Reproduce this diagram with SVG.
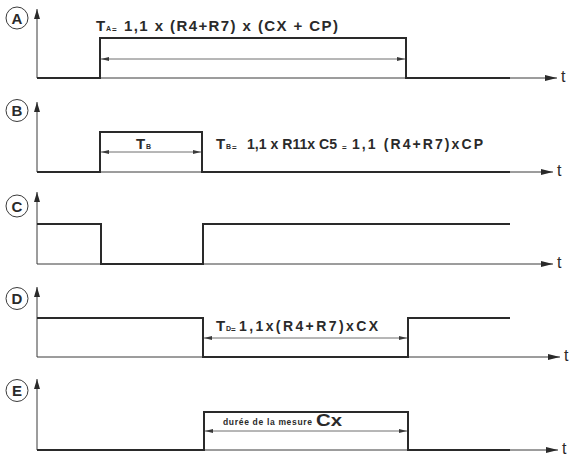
<svg xmlns="http://www.w3.org/2000/svg" width="575" height="459" viewBox="0 0 575 459">
<defs>
<style>
.bg{fill:#ffffff}
.sig{fill:none;stroke:#2a2a2a;stroke-width:2;stroke-linejoin:miter}
.tax{fill:none;stroke:#3a3a3a;stroke-width:1;marker-end:url(#tarr)}
.yax{fill:none;stroke:#3a3a3a;stroke-width:1;marker-end:url(#yarr)}
.dim{fill:none;stroke:#4a4a4a;stroke-width:0.8;marker-start:url(#darr);marker-end:url(#darr)}
.circ{fill:none;stroke:#3a3a3a;stroke-width:1}
.lbl{font-family:"Liberation Sans",Arial,sans-serif;font-weight:bold;font-size:15px;fill:#2a2a2a;text-anchor:middle}
.tx{font-family:"Liberation Sans",Arial,sans-serif;font-weight:bold;font-size:15px;fill:#2a2a2a}
.tx14{font-family:"Liberation Sans",Arial,sans-serif;font-weight:bold;font-size:14px;fill:#2a2a2a}
.sub{font-family:"Liberation Sans",Arial,sans-serif;font-weight:bold;font-size:7px;fill:#2a2a2a}
.eq{font-family:"Liberation Sans",Arial,sans-serif;font-weight:bold;font-size:8px;fill:#2a2a2a}
.sm{font-family:"Liberation Sans",Arial,sans-serif;font-size:8.5px;font-weight:bold;fill:#2a2a2a}
.t{font-family:"Liberation Sans",Arial,sans-serif;font-size:16px;fill:#2a2a2a}
</style>
<marker id="tarr" markerUnits="userSpaceOnUse" markerWidth="12" markerHeight="6" refX="12" refY="3" orient="auto">
<path d="M0,0 L12,3 L0,6 z" fill="#2a2a2a"/>
</marker>
<marker id="yarr" markerUnits="userSpaceOnUse" markerWidth="10" markerHeight="6" refX="10" refY="3" orient="auto">
<path d="M0,0 L10,3 L0,6 z" fill="#2a2a2a"/>
</marker>
<marker id="darr" markerUnits="userSpaceOnUse" markerWidth="8" markerHeight="4" refX="8" refY="2" orient="auto-start-reverse">
<path d="M0,0 L8,2 L0,4 z" fill="#3a3a3a"/>
</marker>
</defs>
<rect class="bg" x="0" y="0" width="575" height="459"/>

<g id="rowA">
<circle class="circ" cx="17" cy="18" r="11"/>
<text class="lbl" x="17" y="23.5">A</text>
<line class="yax" x1="37" y1="78" x2="37" y2="9"/>
<line class="tax" x1="37" y1="78" x2="557" y2="78"/>
<polyline class="sig" points="37,78 100,78 100,38 406,38 406,78 510,78"/>
<line class="dim" x1="101" y1="59" x2="405" y2="59"/>
<text class="tx" x="96" y="31">T</text>
<text class="sub" x="106" y="31">A</text>
<text class="eq" x="112" y="32">=</text>
<text class="tx" x="124" y="31" textLength="214" lengthAdjust="spacing">1,1 x (R4+R7) x (CX + CP)</text>
<text class="t" x="561" y="82">t</text>
</g>

<g id="rowB">
<circle class="circ" cx="17" cy="110.5" r="11"/>
<text class="lbl" x="17" y="116">B</text>
<line class="yax" x1="37" y1="172" x2="37" y2="102"/>
<line class="tax" x1="37" y1="172" x2="553" y2="172"/>
<polyline class="sig" points="37,172 100,172 100,132 202,132 202,172 510,172"/>
<line class="dim" x1="101" y1="152" x2="201" y2="152"/>
<text class="tx" x="136" y="149">T</text>
<text class="sub" x="146" y="149">B</text>
<text class="tx" x="216" y="149">T</text>
<text class="sub" x="226" y="149">B</text>
<text class="eq" x="232" y="150">=</text>
<text class="tx14" x="247" y="149" textLength="90" lengthAdjust="spacingAndGlyphs">1,1 x R11x C5</text>
<text class="eq" x="342" y="150">=</text>
<text class="tx14" x="352" y="149" textLength="131" lengthAdjust="spacing">1,1 (R4+R7)xCP</text>
<text class="t" x="557" y="176">t</text>
</g>

<g id="rowC">
<circle class="circ" cx="17" cy="206" r="11"/>
<text class="lbl" x="17" y="211.5">C</text>
<line class="yax" x1="37" y1="264" x2="37" y2="192"/>
<line class="tax" x1="37" y1="264" x2="553" y2="264"/>
<polyline class="sig" points="37,224 101,224 101,264 203,264 203,224 510,224"/>
<text class="t" x="557" y="268">t</text>
</g>

<g id="rowD">
<circle class="circ" cx="17" cy="298.5" r="11"/>
<text class="lbl" x="17" y="304">D</text>
<line class="yax" x1="37" y1="357" x2="37" y2="287"/>
<line class="tax" x1="37" y1="357" x2="560" y2="357"/>
<polyline class="sig" points="37,318 203,318 203,357 408,357 408,318 510,318"/>
<line class="dim" x1="204" y1="338" x2="407" y2="338"/>
<text class="tx" x="216" y="331">T</text>
<text class="sub" x="226" y="331">D</text>
<text class="eq" x="231" y="332">=</text>
<text class="tx14" x="239" y="331" textLength="139" lengthAdjust="spacing">1,1x(R4+R7)xCX</text>
<text class="t" x="564" y="361">t</text>
</g>

<g id="rowE">
<circle class="circ" cx="17" cy="390.5" r="11"/>
<text class="lbl" x="17" y="396">E</text>
<line class="yax" x1="37" y1="450" x2="37" y2="379"/>
<line class="tax" x1="37" y1="450" x2="558" y2="450"/>
<polyline class="sig" points="37,450 204,450 204,412 408,412 408,450 510,450"/>
<line class="dim" x1="205" y1="431" x2="407" y2="431"/>
<text class="sm" x="223" y="425" textLength="89" lengthAdjust="spacing">durée  de la mesure</text>
<text class="tx" x="316" y="426" style="font-size:16px" textLength="26" lengthAdjust="spacingAndGlyphs">Cx</text>
<text class="t" x="562" y="454">t</text>
</g>
</svg>
